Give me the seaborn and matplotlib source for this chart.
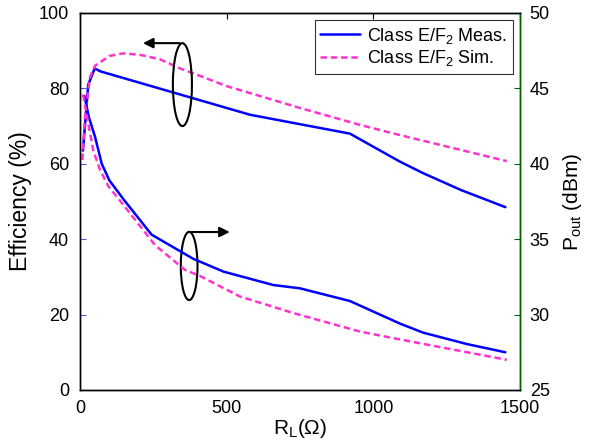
import pandas as pd
import numpy as np
import matplotlib
matplotlib.use('Agg')
import matplotlib.pyplot as plt
import seaborn as sns
from matplotlib.patches import Ellipse

# --- datos ---
rl_eff_meas = [10, 28, 50, 70, 580, 920, 1090, 1170, 1300, 1450]
eff_meas = [63.5, 81, 85.3, 84.5, 73, 68, 60.6, 57.5, 53, 48.5]

rl_eff_sim = [8, 17, 34, 51, 100, 147, 205, 273, 341, 386, 500, 750, 955, 1091, 1455]
eff_sim = [61, 72.5, 83, 86, 88.6, 89.3, 88.9, 87.7, 85.3, 84.0, 80.6, 74.8, 70.3, 67.6, 60.7]

rl_pout_meas = [15, 30, 51, 74, 100, 150, 244, 386, 489, 659, 750, 920, 1091, 1170, 1318, 1450]
pout_meas = [44.5, 43.1, 41.8, 40.0, 38.9, 37.6, 35.3, 33.7, 32.85, 31.96, 31.74, 30.9, 29.4, 28.8, 28.05, 27.5]

rl_pout_sim = [10, 45, 68, 97, 153, 256, 358, 409, 545, 727, 955, 1091, 1455]
pout_sim = [44.6, 40.9, 39.6, 38.5, 37.15, 34.6, 32.96, 32.56, 31.2, 30.1, 28.87, 28.35, 27.0]

x_ticks = [0, 500, 1000, 1500]
eff_ticks = [0, 20, 40, 60, 80, 100]
pout_ticks = [25, 30, 35, 40, 45, 50]

sns.set_style('white')
plt.rcParams['font.family'] = ['Liberation Sans', 'DejaVu Sans']
plt.rcParams['mathtext.fontset'] = 'custom'
plt.rcParams['mathtext.rm'] = 'Liberation Sans'
plt.rcParams['text.color'] = 'black'
plt.rcParams['axes.labelcolor'] = 'black'
plt.rcParams['xtick.color'] = 'black'
plt.rcParams['ytick.color'] = 'black'

azul = '#0000ff'
rosa = '#ff33cc'
verde = '#006400'

fig = plt.figure(figsize=(5.95, 4.48), dpi=100)
ax = fig.add_axes([0.1345, 0.1295, 0.7395, 0.8415])
ax2 = ax.twinx()

df_em = pd.DataFrame({'RL': rl_eff_meas, 'val': eff_meas})
df_es = pd.DataFrame({'RL': rl_eff_sim, 'val': eff_sim})
df_pm = pd.DataFrame({'RL': rl_pout_meas, 'val': pout_meas})
df_ps = pd.DataFrame({'RL': rl_pout_sim, 'val': pout_sim})

sns.lineplot(data=df_em, x='RL', y='val', ax=ax, color=azul, lw=1.8, label='Class E/F$_\\mathrm{2}$ Meas.')
sns.lineplot(data=df_es, x='RL', y='val', ax=ax, color=rosa, lw=1.8, label='Class E/F$_\\mathrm{2}$ Sim.')
ax.lines[-1].set_linestyle((0, (2.6, 1.5)))
sns.lineplot(data=df_pm, x='RL', y='val', ax=ax2, color=azul, lw=1.8, legend=False)
sns.lineplot(data=df_ps, x='RL', y='val', ax=ax2, color=rosa, lw=1.8, legend=False)
ax2.lines[-1].set_linestyle((0, (2.6, 1.5)))

ax.set_xlim(0, 1500)
ax.set_ylim(0, 100)
ax2.set_ylim(25, 50)
ax.set_xticks(x_ticks)
ax.set_yticks(eff_ticks)
ax2.set_yticks(pout_ticks)

ax.set_xlabel('R$_\\mathrm{L}$(Ω)', fontsize=15, labelpad=0)
ax.set_ylabel('Efficiency (%)', fontsize=16.5, labelpad=5)
ax2.set_ylabel('P$_\\mathrm{out}$ (dBm)', fontsize=15, labelpad=8)

ax.tick_params(axis='x', direction='in', length=4, labelsize=13, top=True, pad=7)
ax.tick_params(axis='y', direction='in', length=4, labelsize=13, color='#5555ff', pad=8)
ax2.tick_params(axis='y', direction='in', length=4, labelsize=13, color=verde, pad=7)

for a in (ax, ax2):
    for s in a.spines.values():
        s.set_color('black')
        s.set_linewidth(1.0)
ax2.spines['right'].set_color(verde)
ax.spines['left'].set_color('#000080')

leg = ax.legend(loc='upper right', fontsize=13, frameon=True, fancybox=False,
                edgecolor='black', handlelength=2.2, borderpad=0.3,
                labelspacing=0.15, handletextpad=0.4, borderaxespad=0.4)
leg.get_frame().set_linewidth(0.8)

# anotaciones: elipses y flechas
ax.add_patch(Ellipse((349, 81.0), 65, 22, fill=False, ec='black', lw=1.5, zorder=5))
ax.annotate('', xy=(205, 92), xytext=(350, 92),
            arrowprops=dict(arrowstyle='-|>', color='black', lw=1.5, mutation_scale=15))
ax.add_patch(Ellipse((372, 32.9), 57, 18.1, fill=False, ec='black', lw=1.5, zorder=5))
ax.annotate('', xy=(520, 41.9), xytext=(369, 41.9),
            arrowprops=dict(arrowstyle='-|>', color='black', lw=1.5, mutation_scale=15))

plt.savefig('out.png', dpi=100)
